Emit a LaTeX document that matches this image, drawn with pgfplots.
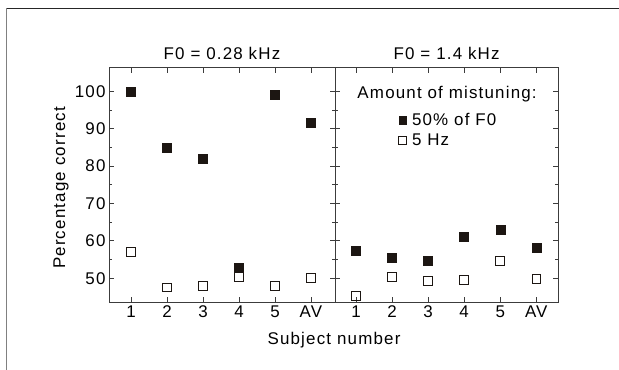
\documentclass[border=0pt]{standalone}
\usepackage{fontspec}
\setmainfont{Liberation Sans}[LetterSpace=7]
\usepackage{pgfplots}
\pgfplotsset{compat=1.18}
\newcommand\f{\fontsize{17}{20}\selectfont}
\definecolor{mk}{RGB}{28,22,18}
\definecolor{ax}{RGB}{60,60,60}
\begin{document}
\begin{tikzpicture}
\pgfplotsset{
 every axis/.append style={
  scale only axis, height=234.3bp, ymin=43.65, ymax=106.3,
  axis line style={ax, line width=0.9bp},
  tick style={ax, line width=0.8bp},
  major tick length=5bp, minor tick length=3bp,
  tick align=inside, tick pos=both,
  ytick={50,60,...,100}, minor ytick={55,65,...,95},
  xtick={1,...,6}, xticklabels={1,2,3,4,5,AV},
  tick label style={font=\f},
  /pgf/number format/assume math mode=true,
  title style={font=\f, at={(0.5,1)}, anchor=center, yshift=8bp},
 },
}
\path[use as bounding box] (0,0) rectangle (619bp,370bp);
\draw[black!85, line width=1.2bp] (6.5bp,361.7bp) -- (619bp,361.7bp);
\draw[gray, line width=1.5bp] (6.7bp,0bp) -- (6.7bp,361.7bp);

\begin{axis}[at={(109bp,68bp)}, anchor=south west, width=226bp,
  xmin=0.389, xmax=6.667, title={F0 = 0.28 kHz},
  ylabel={Percentage correct},
  ylabel style={font=\f, at={(axis description cs:-0.212,0.487)}, anchor=center}]
\addplot[only marks, mark=square*, mark size=4.5bp, mk] coordinates {(1,100)(2,85)(3,82)(4,52.9)(5,99.1)(6,91.5)};
\addplot[only marks, mark=square, mark size=4.3bp, mark options={line width=0.9bp, draw=mk, fill=white}] coordinates {(1,57.0)(2,47.5)(3,47.9)(4,50.3)(5,47.9)(6,50.1)};
\end{axis}

\begin{axis}[at={(335bp,68bp)}, anchor=south west, width=223.3bp,
  xmin=0.417, xmax=6.611, title={F0 = 1.4 kHz}, yticklabels={},
  legend style={draw=none, fill=none, font=\f, at={(0.285,0.815)}, anchor=north west, inner sep=0pt, cells={anchor=west}, row sep=3bp},
  legend image code/.code={\draw[#1, mark size=3.6bp] plot coordinates {(0bp,0bp)};}]
\addplot[only marks, mark=square*, mark size=4.5bp, mk] coordinates {(1,57.3)(2,55.4)(3,54.6)(4,61.0)(5,63.0)(6,58.2)};
\addlegendentry{\hspace{4bp}50\% of F0}
\addplot[only marks, mark=square, mark size=4.3bp, mark options={line width=0.9bp, draw=mk, fill=white}] coordinates {(1,45.3)(2,50.4)(3,49.3)(4,49.5)(5,54.6)(6,49.8)};
\addlegendentry{\hspace{4bp}5 Hz}
\node[font=\f] at (rel axis cs:0.502,0.889) {Amount of mistuning:};
\end{axis}
\node[font=\f] at (334bp,30bp) {Subject number};
\end{tikzpicture}
\end{document}
